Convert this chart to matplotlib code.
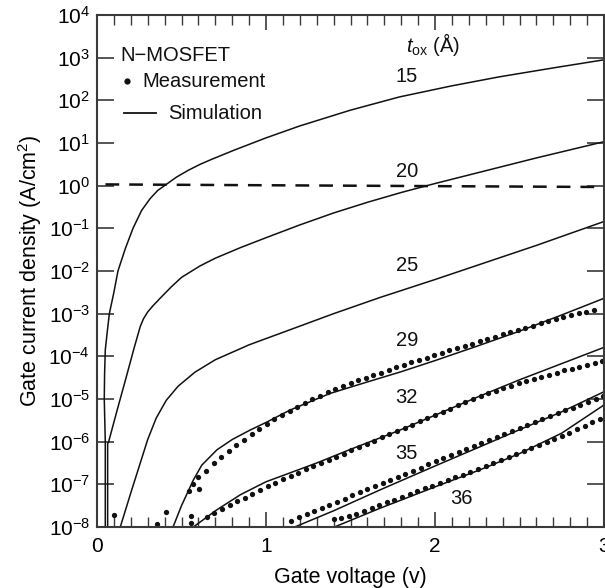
import numpy as np
import matplotlib
matplotlib.use("Agg")
import matplotlib.pyplot as plt
from matplotlib.ticker import MultipleLocator, FixedLocator, FuncFormatter, NullLocator

plt.rcParams['font.family'] = ['Liberation Sans', 'DejaVu Sans']
plt.rcParams['mathtext.fontset'] = 'custom'
plt.rcParams['mathtext.rm'] = 'Liberation Sans'
plt.rcParams['mathtext.it'] = 'Liberation Sans:italic'
plt.rcParams['mathtext.bf'] = 'Liberation Sans:bold'

# ---------------- data (gate voltage V, log10 of gate current density A/cm^2) -------------
ox_labels = ['15', '20', '25', '29', '32', '35', '36']

sim15_v = [0.049, 0.049, 0.046, 0.043, 0.045, 0.049, 0.060, 0.073, 0.099, 0.124, 0.168, 0.213,
           0.264, 0.315, 0.36, 0.41, 0.47, 0.54, 0.61, 0.68, 0.81, 1.0, 1.2, 1.5, 1.79, 2.1,
           2.38, 2.7, 3.0]
sim15_log = [-8.3, -6.0, -5.5, -5.0, -4.4, -3.85, -3.45, -3.0, -2.52, -2.0, -1.47, -1.0,
             -0.58, -0.3, -0.11, 0.03, 0.2, 0.36, 0.50, 0.62, 0.83, 1.12, 1.40, 1.77, 2.08, 2.34,
             2.55, 2.76, 2.95]

sim20_v = [0.063, 0.063, 0.069, 0.12, 0.17, 0.22, 0.256, 0.275, 0.30, 0.33, 0.383, 0.44, 0.5,
           0.61, 0.70, 0.85, 1.0, 1.2, 1.4, 1.6, 1.8, 2.0, 2.2, 2.4, 2.6, 2.8, 3.0]
sim20_log = [-8.3, -6.05, -6.0, -5.25, -4.53, -3.8, -3.3, -3.12, -2.96, -2.82, -2.6, -2.37, -2.15,
             -1.88, -1.70, -1.45, -1.22, -0.92, -0.64, -0.39, -0.16, 0.05, 0.25, 0.45, 0.65, 0.84, 1.03]

sim25_v = [0.13, 0.20, 0.26, 0.30, 0.35, 0.41, 0.48, 0.58, 0.70, 0.90, 1.14, 1.4, 1.675, 2.0,
           2.345, 2.6, 2.8, 3.0]
sim25_log = [-8.1, -7.2, -6.45, -5.95, -5.45, -5.03, -4.70, -4.37, -4.08, -3.73, -3.38, -3.0,
             -2.62, -2.20, -1.74, -1.40, -1.12, -0.84]

sim29_v = [0.44, 0.50, 0.57, 0.62, 0.71, 0.80, 0.905, 1.0, 1.142, 1.379, 1.6, 1.8, 2.0, 2.25,
           2.5, 2.75, 3.0]
sim29_log = [-8.1, -7.5, -6.9, -6.55, -6.19, -5.95, -5.73, -5.55, -5.26, -4.87, -4.60, -4.36,
             -4.10, -3.76, -3.41, -3.03, -2.64]

sim32_v = [0.57, 0.708, 0.85, 1.0, 1.15, 1.3, 1.5, 1.78, 2.0, 2.266, 2.5, 2.75, 3.0]
sim32_log = [-8.0, -7.60, -7.24, -6.94, -6.72, -6.50, -6.18, -5.75, -5.38, -4.93, -4.55, -4.17, -3.79]

sim35_v = [1.17, 1.4, 1.675, 2.0, 2.266, 2.5, 2.75, 3.0]
sim35_log = [-8.0, -7.62, -7.13, -6.57, -6.12, -5.72, -5.30, -4.83]

sim36_v = [1.405, 1.675, 2.0, 2.266, 2.5, 2.75, 3.0]
sim36_log = [-8.0, -7.56, -7.06, -6.66, -6.28, -5.80, -5.14]

m29_v = [0.546, 0.57, 0.60, 0.603, 0.645, 0.69, 0.735, 0.78, 0.825, 0.87, 0.915, 0.96, 1.005,
         1.05, 1.095, 1.14, 1.185, 1.23, 1.275, 1.32, 1.365, 1.41, 1.455, 1.5, 1.545, 1.59, 1.635,
         1.68, 1.725, 1.77, 1.815, 1.86, 1.905, 1.95, 1.995, 2.04, 2.085, 2.13, 2.175, 2.22, 2.265,
         2.31, 2.355, 2.4, 2.445, 2.49, 2.535, 2.58, 2.625, 2.67, 2.715, 2.76, 2.805, 2.85, 2.895, 2.94]
m29_log = [-7.16, -6.99, -6.83, -7.11, -6.68, -6.50, -6.35, -6.21, -6.08, -5.95, -5.82, -5.70,
           -5.59, -5.48, -5.37, -5.27, -5.18, -5.09, -5.00, -4.92, -4.84, -4.76, -4.69, -4.62,
           -4.56, -4.50, -4.44, -4.38, -4.32, -4.26, -4.20, -4.14, -4.08, -4.03, -3.97, -3.92,
           -3.86, -3.81, -3.75, -3.70, -3.64, -3.59, -3.54, -3.48, -3.43, -3.38, -3.33, -3.28,
           -3.23, -3.18, -3.13, -3.08, -3.03, -2.99, -2.95, -2.91]

m32_v = [0.556, 0.556, 0.65, 0.695, 0.74, 0.785, 0.83, 0.875, 0.92, 0.965, 1.01, 1.055, 1.10,
         1.145, 1.19, 1.235, 1.28, 1.325, 1.37, 1.415, 1.46, 1.505, 1.55, 1.595, 1.64, 1.685,
         1.73, 1.775, 1.82, 1.865, 1.91, 1.955, 2.0, 2.045, 2.09, 2.135, 2.18, 2.225, 2.27, 2.315,
         2.36, 2.405, 2.45, 2.495, 2.54, 2.585, 2.63, 2.675, 2.72, 2.765, 2.81, 2.855, 2.90, 2.945, 2.99]
m32_log = [-7.74, -7.90, -7.76, -7.67, -7.58, -7.49, -7.40, -7.31, -7.22, -7.13, -7.04, -6.96,
           -6.88, -6.80, -6.73, -6.65, -6.58, -6.51, -6.43, -6.36, -6.28, -6.20, -6.13, -6.05,
           -5.98, -5.90, -5.82, -5.75, -5.67, -5.60, -5.52, -5.45, -5.38, -5.30, -5.23, -5.15,
           -5.08, -5.00, -4.93, -4.87, -4.81, -4.75, -4.69, -4.63, -4.58, -4.53, -4.48, -4.43,
           -4.38, -4.33, -4.29, -4.24, -4.20, -4.16, -4.12]

m35_v = [1.15, 1.195, 1.24, 1.285, 1.33, 1.375, 1.42, 1.465, 1.51, 1.555, 1.60, 1.645, 1.69,
         1.735, 1.78, 1.825, 1.87, 1.915, 1.96, 2.005, 2.05, 2.095, 2.14, 2.185, 2.23, 2.275,
         2.32, 2.365, 2.41, 2.455, 2.50, 2.545, 2.59, 2.635, 2.68, 2.725, 2.77, 2.815, 2.86,
         2.905, 2.95, 2.995]
m35_log = [-7.85, -7.77, -7.70, -7.63, -7.56, -7.48, -7.41, -7.34, -7.26, -7.19, -7.12, -7.05,
           -6.97, -6.90, -6.83, -6.75, -6.68, -6.61, -6.53, -6.46, -6.39, -6.31, -6.24, -6.17,
           -6.10, -6.03, -5.96, -5.89, -5.82, -5.75, -5.68, -5.61, -5.54, -5.47, -5.40, -5.33,
           -5.26, -5.20, -5.13, -5.07, -5.00, -4.94]

m36_v = [1.40, 1.445, 1.49, 1.535, 1.58, 1.625, 1.67, 1.715, 1.76, 1.805, 1.85, 1.895, 1.94,
         1.985, 2.03, 2.075, 2.12, 2.165, 2.21, 2.255, 2.30, 2.345, 2.39, 2.435, 2.48, 2.525,
         2.57, 2.615, 2.66, 2.705, 2.75, 2.795, 2.84, 2.885, 2.93, 2.975]
m36_log = [-7.82, -7.80, -7.75, -7.69, -7.62, -7.55, -7.49, -7.42, -7.36, -7.29, -7.22, -7.16,
           -7.09, -7.03, -6.96, -6.90, -6.83, -6.77, -6.70, -6.64, -6.57, -6.50, -6.43, -6.36,
           -6.29, -6.22, -6.15, -6.08, -6.01, -5.94, -5.86, -5.79, -5.71, -5.63, -5.55, -5.48]

noise_v = [0.10, 0.353, 0.406]
noise_log = [-7.73, -7.92, -7.64]

limit_v = [0.05, 3.0]
limit_j = [1.07, 0.93]

label_v = [1.833, 1.833, 1.833, 1.833, 1.833, 1.833, 2.158]
label_log = [2.55, 0.33, -1.86, -3.62, -4.96, -6.27, -7.33]

x_ticks = [0, 1, 2, 3]
y_exps = list(range(-8, 5))

# ---------------- figure -------------
fig = plt.figure(figsize=(6.05, 5.88), dpi=100)
ax = fig.add_axes([97/605, 1 - 527/588, 507/605, 512/588])
ax.set_yscale('log')
ax.set_xlim(0, 3)
ax.set_ylim(1e-8, 1e4)

lc = '#111111'
sims = [(sim15_v, sim15_log), (sim20_v, sim20_log), (sim25_v, sim25_log), (sim29_v, sim29_log),
        (sim32_v, sim32_log), (sim35_v, sim35_log), (sim36_v, sim36_log)]
for v, lg in sims:
    ax.plot(v, 10.0 ** np.array(lg), color=lc, lw=1.1, solid_joinstyle='round')

for v, lg in [(m29_v, m29_log), (m32_v, m32_log), (m35_v, m35_log), (m36_v, m36_log),
              (noise_v, noise_log)]:
    ax.plot(v, 10.0 ** np.array(lg), ls='none', marker='o', ms=3.8, mfc=lc, mec=lc, mew=0)

ax.plot(limit_v, limit_j, color=lc, lw=1.8, dashes=(5.5, 4.0))

for t, xv, yl in zip(ox_labels, label_v, label_log):
    ax.text(xv, 10.0 ** yl, t, ha='center', va='center', fontsize=14.5, color=lc)
ax.text(1.99, 10 ** 3.30, r'$\mathit{t}_{\mathregular{ox}}$ (Å)', ha='center', va='center',
        fontsize=14.5, color=lc)

# legend-like annotations
ax.text(0.136, 10 ** 3.06, 'N\u2212MOSFET', ha='left', va='center', fontsize=14.5, color=lc)
ax.plot([0.18], [10 ** 2.45], marker='o', ms=4.5, color=lc, mew=0)
ax.text(0.27, 10 ** 2.44, 'Measurement', ha='left', va='center', fontsize=14.5, color=lc)
ax.plot([0.16, 0.35], [10 ** 1.70, 10 ** 1.70], color=lc, lw=1.3)
ax.text(0.42, 10 ** 1.70, 'Simulation', ha='left', va='center', fontsize=14.5, color=lc)

# axes styling
spc = '#3a3a3a'
for s in ax.spines.values():
    s.set_linewidth(1.5)
    s.set_color(spc)

ax.xaxis.set_major_locator(FixedLocator(x_ticks))
ax.xaxis.set_minor_locator(MultipleLocator(0.1))
ax.yaxis.set_major_locator(FixedLocator([10.0 ** e for e in y_exps]))
ax.yaxis.set_minor_locator(NullLocator())
ax.yaxis.set_major_formatter(FuncFormatter(lambda v, p: r'$\mathregular{10^{%d}}$' % int(round(np.log10(v)))))
ax.xaxis.set_major_formatter(FuncFormatter(lambda v, p: '%d' % v))

ax.tick_params(axis='x', which='major', direction='in', length=11, width=1.2, color=spc,
               top=True, bottom=True, labelsize=15, pad=7)
ax.tick_params(axis='x', which='minor', direction='in', length=7, width=1.0, color=spc,
               top=True, bottom=True)
ax.tick_params(axis='y', which='major', direction='in', length=12, width=1.2, color=spc,
               left=True, right=True, labelsize=15, pad=5)

ax.set_xlabel('Gate voltage (v)', fontsize=15.5, labelpad=8)
ax.set_ylabel(r'Gate current density (A/cm$^{\mathregular{2}}$)', fontsize=15.5, labelpad=3)

fig.savefig('out.png', dpi=100)
